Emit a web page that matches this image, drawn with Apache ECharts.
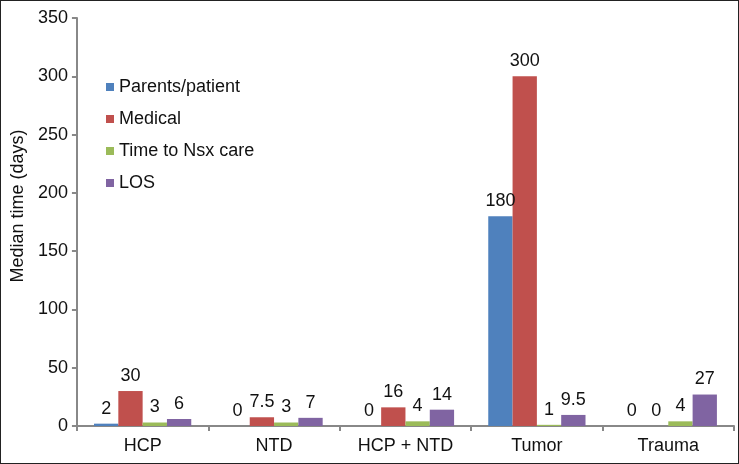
<!DOCTYPE html>
<html>
	<head>
		<meta charset="utf-8">
		<title>Median time</title>
		<script src="https://cdn.jsdelivr.net/npm/echarts@6/dist/echarts.min.js"></script>
		<style>
			body { margin: 0; }
			#box { width: 739px; height: 464px; box-sizing: border-box; border: 1px solid #222; }
		</style>
	</head>
	<body>
		<div id="box"></div>
		<script>
			var categories = ['HCP', 'NTD', 'HCP + NTD', 'Tumor', 'Trauma']
			var parentsPatient = [2, 0, 0, 180, 0]
			var medical = [30, 7.5, 16, 300, 0]
			var timeToNsx = [3, 3, 4, 1, 4]
			var los = [6, 7, 14, 9.5, 27]

			var font = 'Liberation Sans, Arial, sans-serif'
			function bar(name, data, color) {
				return {
					name: name,
					type: 'bar',
					data: data,
					barGap: 0,
					barCategoryGap: '26%',
					itemStyle: { color: color },
					label: {
						show: true,
						position: 'top',
						distance: 6,
						color: '#111',
						fontSize: 18,
						fontFamily: font
					}
				}
			}

			var mCharts = echarts.init(document.querySelector('#box'))
			var option = {
				animation: false,
				textStyle: { fontFamily: font },
				grid: { left: 71, right: 4, top: 17, bottom: 37 },
				legend: {
					orient: 'vertical',
					left: 100,
					top: 72,
					itemWidth: 8,
					itemHeight: 8,
					itemGap: 14,
					icon: 'rect',
					textStyle: { fontSize: 18, color: '#111', fontFamily: font },
					data: ['Parents/patient', 'Medical', 'Time to Nsx care', 'LOS']
				},
				xAxis: {
					type: 'category',
					data: categories,
					axisLine: { lineStyle: { color: '#888', width: 2 } },
					axisTick: { show: true, length: 5, lineStyle: { color: '#888', width: 2 } },
					axisLabel: { fontSize: 18, color: '#111', margin: 11, fontFamily: font }
				},
				yAxis: {
					type: 'value',
					min: 0,
					max: 350,
					interval: 50,
					name: 'Median time (days)',
					nameLocation: 'middle',
					nameGap: 48,
					nameTextStyle: { fontSize: 18, color: '#111', fontFamily: font, padding: [0, 0, 0, 32] },
					splitLine: { show: false },
					axisLine: { show: true, lineStyle: { color: '#888', width: 2 } },
					axisTick: { show: true, length: 5, lineStyle: { color: '#888', width: 2 } },
					axisLabel: { fontSize: 18, color: '#111', margin: 9, fontFamily: font }
				},
				series: [
					bar('Parents/patient', parentsPatient, '#4F81BD'),
					bar('Medical', medical, '#C0504D'),
					bar('Time to Nsx care', timeToNsx, '#9BBB59'),
					bar('LOS', los, '#8064A2')
				]
			}
			mCharts.setOption(option)
		</script>
	</body>
</html>
